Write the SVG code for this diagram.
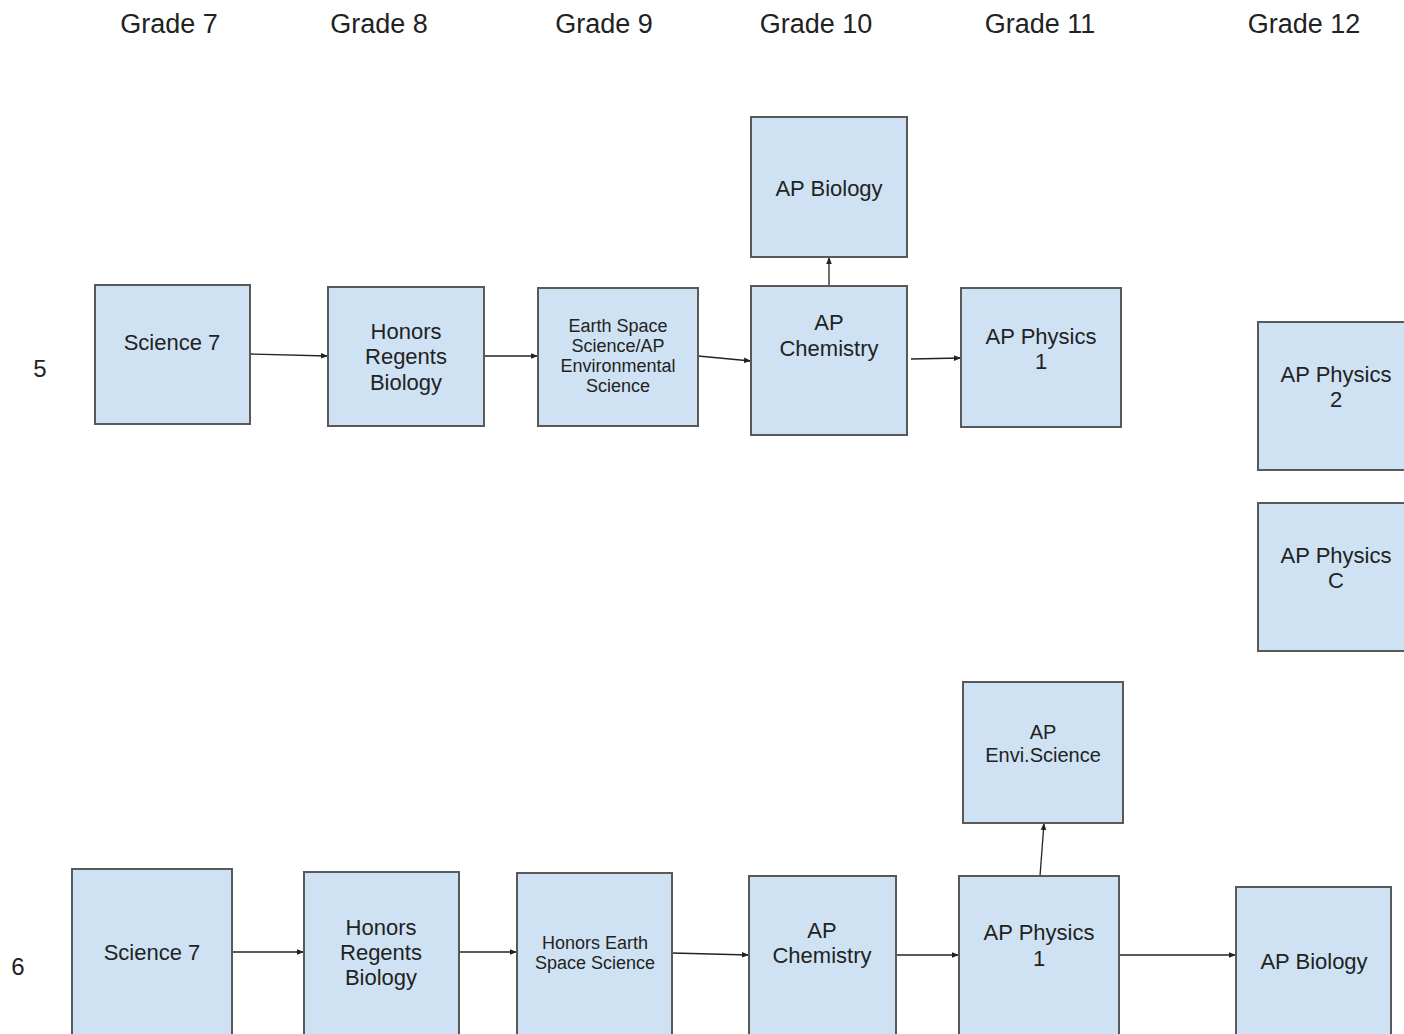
<svg xmlns="http://www.w3.org/2000/svg" width="1404" height="1034" viewBox="0 0 1404 1034">
<style>
.box{fill:#cfe2f3;stroke:#595959;stroke-width:2}
.t{font-family:"Liberation Sans",Arial,sans-serif;font-size:22px;fill:#222;text-anchor:middle}
.s{font-size:18px}
.m{font-size:20px}
.h{font-family:"Liberation Sans",Arial,sans-serif;font-size:27px;fill:#222;text-anchor:middle}
.r{font-family:"Liberation Sans",Arial,sans-serif;font-size:24px;fill:#222;text-anchor:middle}
.c{stroke:#222;stroke-width:1.3;fill:none;marker-end:url(#ah)}
</style>
<defs>
<marker id="ah" viewBox="0 0 10 10" refX="10" refY="5" markerWidth="7" markerHeight="7" markerUnits="userSpaceOnUse" orient="auto">
<path d="M0,1 L10,5 L0,9 z" fill="#222"/>
</marker>
</defs>
<rect width="1404" height="1034" fill="#fff"/>
<g id="headers">
<text class="h" x="169" y="33">Grade 7</text>
<text class="h" x="379" y="33">Grade 8</text>
<text class="h" x="604" y="33">Grade 9</text>
<text class="h" x="816" y="33">Grade 10</text>
<text class="h" x="1040" y="33">Grade 11</text>
<text class="h" x="1304" y="33">Grade 12</text>
</g>
<g id="rowlabels">
<text class="r" x="40" y="377">5</text>
<text class="r" x="18" y="975">6</text>
</g>
<g id="connectors">
<line class="c" x1="250" y1="354" x2="328" y2="356"/>
<line class="c" x1="484" y1="356" x2="538" y2="356"/>
<line class="c" x1="698" y1="356" x2="751" y2="361"/>
<line class="c" x1="829" y1="286" x2="829" y2="257"/>
<line class="c" x1="911" y1="359" x2="961" y2="358"/>
<line class="c" x1="232" y1="952" x2="304" y2="952"/>
<line class="c" x1="459" y1="952" x2="517" y2="952"/>
<line class="c" x1="672" y1="953" x2="749" y2="955"/>
<line class="c" x1="896" y1="955" x2="959" y2="955"/>
<line class="c" x1="1040" y1="876" x2="1044" y2="823"/>
<line class="c" x1="1119" y1="955" x2="1236" y2="955"/>
</g>
<g id="r5-science7">
<rect class="box" x="95" y="285" width="155" height="139"/>
<text class="t" x="172" y="350">Science 7</text>
</g>
<g id="r5-hrb">
<rect class="box" x="328" y="287" width="156" height="139"/>
<text class="t" x="406" y="339">Honors</text>
<text class="t" x="406" y="364">Regents</text>
<text class="t" x="406" y="390">Biology</text>
</g>
<g id="r5-earth">
<rect class="box" x="538" y="288" width="160" height="138"/>
<text class="t s" x="618" y="332">Earth Space</text>
<text class="t s" x="618" y="352">Science/AP</text>
<text class="t s" x="618" y="372">Environmental</text>
<text class="t s" x="618" y="392">Science</text>
</g>
<g id="r5-apchem">
<rect class="box" x="751" y="286" width="156" height="149"/>
<text class="t" x="829" y="330">AP</text>
<text class="t" x="829" y="356">Chemistry</text>
</g>
<g id="r5-apbio">
<rect class="box" x="751" y="117" width="156" height="140"/>
<text class="t" x="829" y="196">AP Biology</text>
</g>
<g id="r5-apphys1">
<rect class="box" x="961" y="288" width="160" height="139"/>
<text class="t" x="1041" y="344">AP Physics</text>
<text class="t" x="1041" y="369">1</text>
</g>
<g id="apphys2">
<rect class="box" x="1258" y="322" width="150" height="148"/>
<text class="t" x="1336" y="382">AP Physics</text>
<text class="t" x="1336" y="407">2</text>
</g>
<g id="apphysc">
<rect class="box" x="1258" y="503" width="150" height="148"/>
<text class="t" x="1336" y="563">AP Physics</text>
<text class="t" x="1336" y="588">C</text>
</g>
<g id="r6-science7">
<rect class="box" x="72" y="869" width="160" height="170"/>
<text class="t" x="152" y="960">Science 7</text>
</g>
<g id="r6-hrb">
<rect class="box" x="304" y="872" width="155" height="170"/>
<text class="t" x="381" y="935">Honors</text>
<text class="t" x="381" y="960">Regents</text>
<text class="t" x="381" y="985">Biology</text>
</g>
<g id="r6-hess">
<rect class="box" x="517" y="873" width="155" height="170"/>
<text class="t s" x="595" y="949">Honors Earth</text>
<text class="t s" x="595" y="969">Space Science</text>
</g>
<g id="r6-apchem">
<rect class="box" x="749" y="876" width="147" height="170"/>
<text class="t" x="822" y="938">AP</text>
<text class="t" x="822" y="963">Chemistry</text>
</g>
<g id="r6-apphys1">
<rect class="box" x="959" y="876" width="160" height="170"/>
<text class="t" x="1039" y="940">AP Physics</text>
<text class="t" x="1039" y="966">1</text>
</g>
<g id="r6-apenvi">
<rect class="box" x="963" y="682" width="160" height="141"/>
<text class="t m" x="1043" y="739">AP</text>
<text class="t m" x="1043" y="762">Envi.Science</text>
</g>
<g id="r6-apbio">
<rect class="box" x="1236" y="887" width="155" height="160"/>
<text class="t" x="1314" y="969">AP Biology</text>
</g>
</svg>
